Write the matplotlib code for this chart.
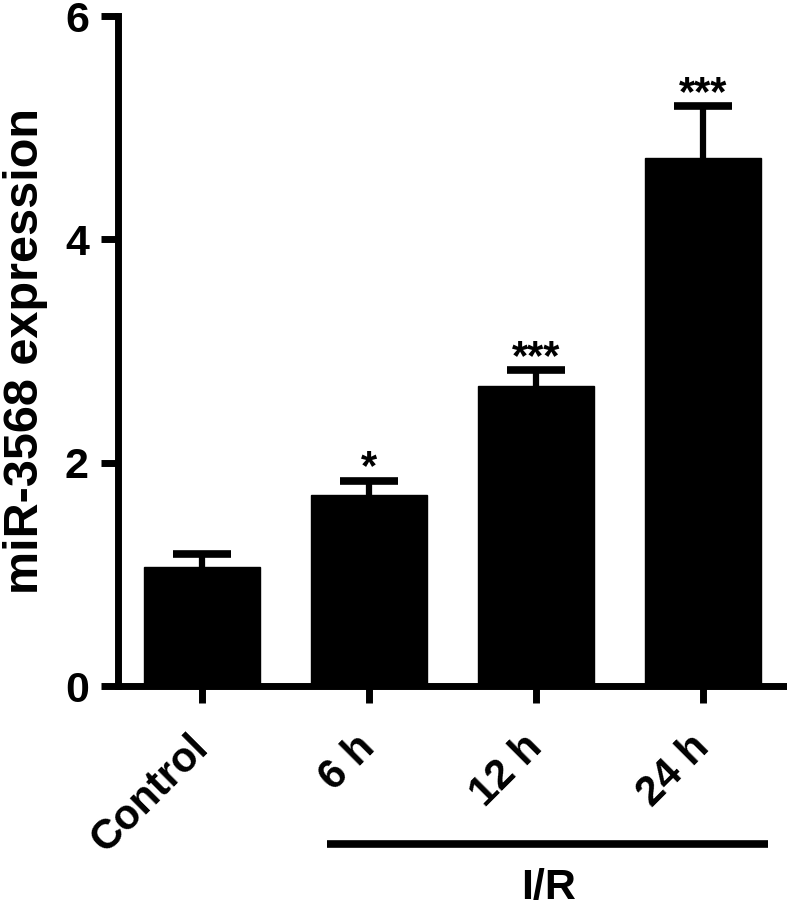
import matplotlib
matplotlib.use("Agg")
from matplotlib import pyplot as plt

# values
groups = ["Control", "6 h", "12 h", "24 h"]
means = [1.07, 1.71, 2.69, 4.73]
sems = [0.11, 0.13, 0.14, 0.46]
stars = ["", "*", "***", "***"]
yticks = [0, 2, 4, 6]

plt.rcParams["font.family"] = ["Liberation Sans", "DejaVu Sans"]
plt.rcParams["font.weight"] = "bold"

fig = plt.figure(figsize=(7.87, 9.10), dpi=100)
ax = fig.add_axes([118/787, 224/910, 669/787, 670/910])

x = list(range(len(groups)))
ax.bar(x, means, width=0.70, color="black", edgecolor="black", linewidth=1, zorder=2)
# lower half of the bar is hidden inside the black bar
ax.errorbar(x, means, yerr=sems, fmt="none", ecolor="black",
            elinewidth=4.5, capsize=21, capthick=5.5, zorder=3)

# significance marks above the error caps
for xi, m, s, st in zip(x, means, sems, stars):
    if st:
        ax.annotate(st, (xi, m + s), xytext=(0, 1), textcoords="offset points",
                    ha="center", va="baseline", fontsize=30, fontweight="bold")

ax.set_xlim(-0.503, 3.503)
ax.set_ylim(0, 6)
ax.set_yticks(yticks)
ax.set_yticklabels([str(t) for t in yticks], fontsize=31, fontweight="bold")
ax.set_xticks(x)
ax.set_xticklabels(groups, rotation=45, ha="right", va="center", rotation_mode="anchor",
                   fontsize=30, fontweight="bold")

for side in ["top", "right"]:
    ax.spines[side].set_visible(False)
for side in ["left", "bottom"]:
    ax.spines[side].set_linewidth(5)
ax.tick_params(axis="both", length=12, width=5, color="black")
ax.tick_params(axis="y", pad=9)
ax.tick_params(axis="x", pad=28)

ax.set_ylabel("miR-3568 expression", fontsize=35, fontweight="bold", labelpad=12)

# group bar under the I/R time points
ax.plot([0.75, 3.39], [-0.236, -0.236], color="black", linewidth=5.5,
        transform=ax.get_xaxis_transform(), clip_on=False, solid_capstyle="butt")
fig.text(549/787, 2/910, "I/R", ha="center", va="bottom", fontsize=31, fontweight="bold")

fig.savefig("out.png", dpi=100)
